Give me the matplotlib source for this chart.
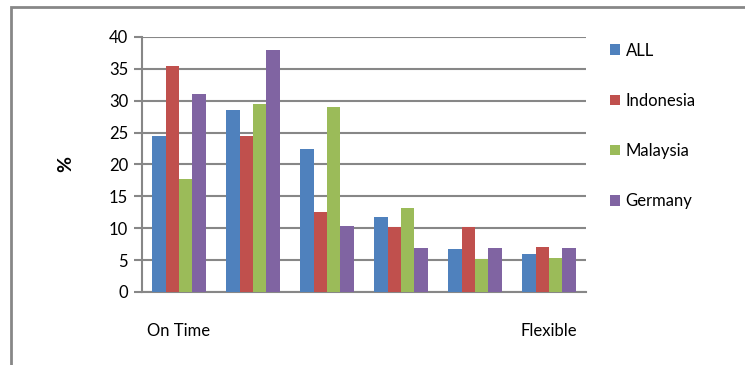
import matplotlib
matplotlib.use("Agg")
import matplotlib.pyplot as plt
import numpy as np
from matplotlib.patches import Rectangle

# Response scale from "On Time" to "Flexible" (6 points)
categories = ["On Time", "", "", "", "", "Flexible"]
series_names = ["ALL", "Indonesia", "Malaysia", "Germany"]
all_vals = [24.4, 28.5, 22.4, 11.8, 6.8, 6.0]
indonesia_vals = [35.4, 24.4, 12.6, 10.2, 10.2, 7.1]
malaysia_vals = [17.8, 29.5, 29.0, 13.2, 5.1, 5.4]
germany_vals = [31.0, 37.9, 10.3, 6.9, 6.9, 6.9]
colors = ["#4F81BD", "#C0504D", "#9BBB59", "#8064A2"]

plt.rcParams['font.family'] = ['Lato', 'DejaVu Sans']

fig = plt.figure(figsize=(7.45, 3.65), dpi=100)
ax = fig.add_axes([142 / 745, 73 / 365, 444 / 745, 255 / 365])

values = [all_vals, indonesia_vals, malaysia_vals, germany_vals]
x = np.arange(len(categories))
bar_w = 0.182
for i, (name, vals, c) in enumerate(zip(series_names, values, colors)):
    ax.bar(x + (i - 1.5) * bar_w, vals, width=bar_w, color=c, label=name,
           zorder=3, linewidth=0)

ax.set_xlim(-0.5, len(categories) - 0.5)
ax.set_ylim(0, 40)
ax.set_yticks(range(0, 41, 5))
ax.set_xticks(x)
ax.set_xticklabels(categories, fontsize=12)
ax.tick_params(axis='x', length=0, pad=22)
ax.tick_params(axis='y', length=6, width=1.5, color='#878787', labelsize=12, pad=4)

ax.grid(axis='y', color='#878787', linewidth=1.5, zorder=0)
ax.set_axisbelow(True)
for side in ['top', 'right']:
    ax.spines[side].set_visible(False)
for side in ['left', 'bottom']:
    ax.spines[side].set_color('#878787')
    ax.spines[side].set_linewidth(1.5)

ax.set_ylabel('%', fontsize=14, fontweight='bold', labelpad=25)

leg = ax.legend(loc='upper left', bbox_to_anchor=(603 / 745, 1 - 36 / 365),
                bbox_transform=fig.transFigure, frameon=False, fontsize=12,
                handlelength=0.6, handleheight=0.6, handletextpad=0.35,
                labelspacing=2.05, borderaxespad=0)

# Outer chart frame
fig.patches.append(Rectangle((11 / 745, -0.1), 1.2, (365 - 7) / 365 + 0.1,
                             transform=fig.transFigure, fill=False,
                             edgecolor='#878787', linewidth=2))

fig.savefig('out.png', dpi=100)
